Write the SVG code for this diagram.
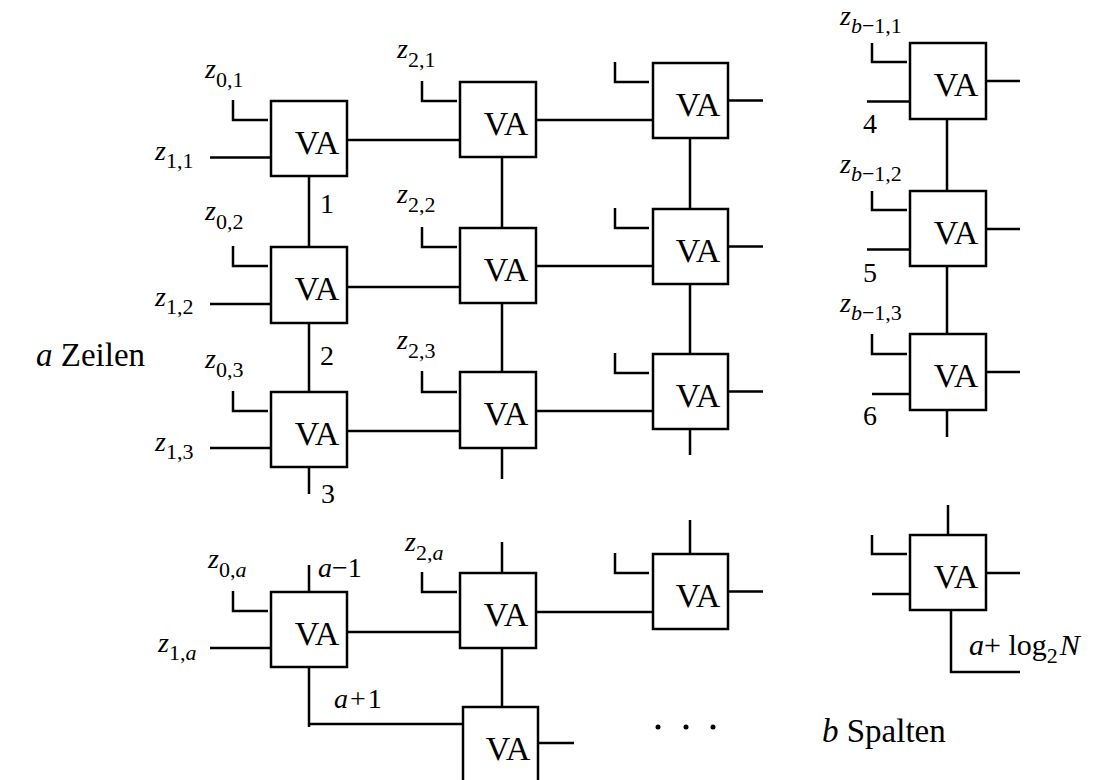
<svg xmlns="http://www.w3.org/2000/svg" width="1098" height="780" viewBox="0 0 1098 780" font-family="Liberation Serif, DejaVu Serif, serif">
<style>
.bx{fill:#fff;stroke:#000;stroke-width:2.5}
.ln{fill:none;stroke:#000;stroke-width:2.5}
.va{font-size:34px;text-anchor:middle}
.lb{font-size:28px}
.sb{font-size:22px}
.it{font-style:italic}
.big{font-size:33px}
</style>
<rect width="1098" height="780" fill="#fff"/>
<g id="connectors" class="ln">
<path d="M233,100V120H268M210,157.5H271M347,140H460M309,176V247"/>
<path d="M233,246V266H268M210,304H271M347,287H460M309,323V392"/>
<path d="M233,391V411H268M210,448H271M347,431H460M309,467V494"/>
<path d="M233,591V611H268M210,648H271M347,632H460M309,565V592M309,667V727M309,724H463"/>
<path d="M422,81V101H457M536,120H653M502,157V228"/>
<path d="M422,227V247H457M536,266H653M502,303V372"/>
<path d="M422,371V392H457M536,411H653M502,448V479"/>
<path d="M422,572V592H457M536,612H653M502,542V573M502,648V707"/>
<path d="M538,743H574"/>
<path d="M615,62V82H649M728,100.5H763M690,138V209"/>
<path d="M615,208V228H649M728,246.5H763M690,284V354"/>
<path d="M615,353V373H649M728,391.5H763M690,429V455"/>
<path d="M615,553V573H649M728,591.5H763M690,520V554"/>
<path d="M872,43V62H907M867,101.5H910M986,81H1020M947,119V191"/>
<path d="M872,191V210H907M867,249.5H910M986,229H1020M947,266V334"/>
<path d="M872,334V354H907M872,394H910M986,372H1020M947,410V437"/>
<path d="M872,535V554H907M872,594H910M986,573H1020M948,505V535M951,610V672H1020"/>
</g>
<g id="n11"><rect class="bx" x="271" y="101" width="76" height="75"/><text class="va" x="317" y="154">VA</text></g>
<g id="n12"><rect class="bx" x="271" y="247" width="76" height="76"/><text class="va" x="317" y="300">VA</text></g>
<g id="n13"><rect class="bx" x="271" y="392" width="76" height="75"/><text class="va" x="317" y="445">VA</text></g>
<g id="n1a"><rect class="bx" x="271" y="592" width="76" height="75"/><text class="va" x="317" y="645">VA</text></g>
<g id="n21"><rect class="bx" x="460" y="82" width="76" height="75"/><text class="va" x="506" y="135">VA</text></g>
<g id="n22"><rect class="bx" x="460" y="228" width="76" height="75"/><text class="va" x="506" y="281">VA</text></g>
<g id="n23"><rect class="bx" x="460" y="372" width="76" height="76"/><text class="va" x="506" y="425">VA</text></g>
<g id="n2a"><rect class="bx" x="460" y="573" width="76" height="75"/><text class="va" x="506" y="626">VA</text></g>
<g id="n2b"><rect class="bx" x="463" y="707" width="75" height="76"/><text class="va" x="508" y="760">VA</text></g>
<g id="n31"><rect class="bx" x="653" y="63" width="75" height="75"/><text class="va" x="698" y="116">VA</text></g>
<g id="n32"><rect class="bx" x="653" y="209" width="75" height="75"/><text class="va" x="698" y="262">VA</text></g>
<g id="n33"><rect class="bx" x="653" y="354" width="75" height="75"/><text class="va" x="698" y="407">VA</text></g>
<g id="n3a"><rect class="bx" x="653" y="554" width="75" height="75"/><text class="va" x="698" y="607">VA</text></g>
<g id="nb1"><rect class="bx" x="910" y="43" width="76" height="76"/><text class="va" x="956" y="96">VA</text></g>
<g id="nb2"><rect class="bx" x="910" y="191" width="76" height="75"/><text class="va" x="956" y="244">VA</text></g>
<g id="nb3"><rect class="bx" x="910" y="334" width="76" height="76"/><text class="va" x="956" y="387">VA</text></g>
<g id="nba"><rect class="bx" x="910" y="535" width="76" height="75"/><text class="va" x="956" y="588">VA</text></g>
<g id="labels" class="lb">
<text x="205" y="78"><tspan class="it">z</tspan><tspan class="sb" dy="9">0,1</tspan></text>
<text x="155" y="160"><tspan class="it">z</tspan><tspan class="sb" dy="8">1,1</tspan></text>
<text x="205" y="220"><tspan class="it">z</tspan><tspan class="sb" dy="9">0,2</tspan></text>
<text x="155" y="306"><tspan class="it">z</tspan><tspan class="sb" dy="8">1,2</tspan></text>
<text x="205" y="368"><tspan class="it">z</tspan><tspan class="sb" dy="9">0,3</tspan></text>
<text x="155" y="451"><tspan class="it">z</tspan><tspan class="sb" dy="8">1,3</tspan></text>
<text x="208" y="568"><tspan class="it">z</tspan><tspan class="sb" dy="9">0,</tspan><tspan class="sb it">a</tspan></text>
<text x="158" y="652"><tspan class="it">z</tspan><tspan class="sb" dy="8">1,</tspan><tspan class="sb it">a</tspan></text>
<text x="397" y="58"><tspan class="it">z</tspan><tspan class="sb" dy="9">2,1</tspan></text>
<text x="397" y="203"><tspan class="it">z</tspan><tspan class="sb" dy="9">2,2</tspan></text>
<text x="397" y="349"><tspan class="it">z</tspan><tspan class="sb" dy="9">2,3</tspan></text>
<text x="405" y="551"><tspan class="it">z</tspan><tspan class="sb" dy="9">2,</tspan><tspan class="sb it">a</tspan></text>
<text x="840" y="25"><tspan class="it">z</tspan><tspan class="sb it" dy="8">b</tspan><tspan class="sb">−1,1</tspan></text>
<text x="840" y="173"><tspan class="it">z</tspan><tspan class="sb it" dy="8">b</tspan><tspan class="sb">−1,2</tspan></text>
<text x="840" y="312"><tspan class="it">z</tspan><tspan class="sb it" dy="8">b</tspan><tspan class="sb">−1,3</tspan></text>
<text x="320" y="213">1</text>
<text x="320" y="365">2</text>
<text x="321" y="503">3</text>
<text x="863" y="133">4</text>
<text x="863" y="282">5</text>
<text x="863" y="425">6</text>
<text x="318" y="577"><tspan class="it">a</tspan>−1</text>
<text x="334" y="708"><tspan class="it">a</tspan><tspan dx="2">+</tspan><tspan dx="2">1</tspan></text>
<text x="969" y="655" font-size="30"><tspan class="it">a</tspan>+ log<tspan class="sb" dy="8">2</tspan><tspan class="it" dx="2" dy="-8">N</tspan></text>
</g>
<g id="dots"><circle cx="658" cy="727" r="2.5"/><circle cx="686" cy="727" r="2.5"/><circle cx="713" cy="727" r="2.5"/></g>
<text id="zeilen" class="big" x="36" y="366"><tspan class="it">a</tspan> Zeilen</text>
<text id="spalten" class="big" x="822" y="742" font-size="35"><tspan class="it">b</tspan> Spalten</text>
</svg>
